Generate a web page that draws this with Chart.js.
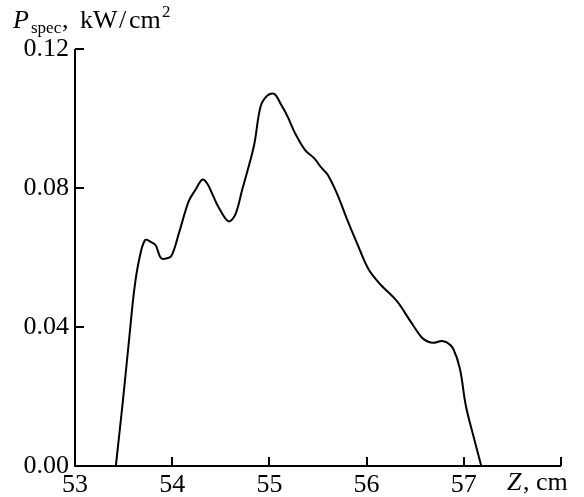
<!DOCTYPE html>
<html>
<head>
<meta charset="utf-8">
<script src="https://cdn.jsdelivr.net/npm/chart.js@4.4.0/dist/chart.umd.min.js"></script>
<style>
  html,body{margin:0;padding:0;background:#fff;}
  #wrap{width:584px;height:497px;position:relative;}
</style>
</head>
<body>
<div id="wrap"><canvas id="c" width="584" height="497"></canvas></div>
<script>
/* Spectral power density P_spec along Z */
const zCm=[53.42,53.49,53.56,53.61,53.66,53.72,53.78,53.83,53.88,53.92,53.99,54.07,54.17,54.24,54.31,54.36,54.42,54.48,54.58,54.65,54.72,54.84,54.91,54.98,55.05,55.12,55.19,55.26,55.37,55.46,55.53,55.60,55.70,55.80,55.90,56.02,56.14,56.31,56.45,56.57,56.64,56.70,56.77,56.83,56.89,56.96,57.02,57.10,57.18];
const pSpec=[0,0.018,0.0374,0.0508,0.0594,0.065,0.0645,0.0635,0.060,0.0596,0.0604,0.0671,0.0762,0.0795,0.0824,0.0813,0.0778,0.0743,0.0704,0.0724,0.0795,0.092,0.1035,0.1066,0.1071,0.104,0.1004,0.096,0.0908,0.0886,0.086,0.0838,0.0781,0.0709,0.0642,0.0566,0.0523,0.0475,0.0417,0.0369,0.0357,0.0355,0.036,0.0355,0.0338,0.028,0.0175,0.0085,0];
const xTicks=[53,54,55,56,57,58];
const yTicks=[0,0.04,0.08,0.12];

const FONT='"Liberation Serif", "DejaVu Serif", serif';

// inward ticks + axis titles
const axisDeco={
  id:'axisDeco',
  afterDraw(ch){
    const c=ch.ctx, x=ch.scales.x, y=ch.scales.y, a=ch.chartArea;
    c.save();
    c.strokeStyle='#000'; c.lineWidth=2;
    c.beginPath();
    c.moveTo(a.left,a.top); c.lineTo(a.left,a.bottom); c.lineTo(a.right,a.bottom);
    xTicks.forEach(v=>{const px=Math.round(x.getPixelForValue(v));c.moveTo(px,a.bottom);c.lineTo(px,a.bottom-9);});
    yTicks.forEach(v=>{const py=Math.round(y.getPixelForValue(v));c.moveTo(a.left,py);c.lineTo(a.left+9,py);});
    c.stroke();
    c.fillStyle='#000'; c.textBaseline='alphabetic';
    // y title: P_spec, kW/cm^2
    c.font='italic 26px '+FONT; c.fillText('P',13,28);
    c.font='17px '+FONT; c.fillText('spec',31,33);
    c.font='26px '+FONT; c.fillText(',',62,28);
    c.fillText('kW',80,28); c.fillText('/',119,28); c.fillText('cm',129,28);
    c.font='17px '+FONT; c.fillText('2',162,17);
    // x title: Z, cm
    c.font='italic 26px '+FONT; c.fillText('Z',507,490);
    c.font='26px '+FONT; c.fillText(', cm',523,490);
    c.restore();
  }
};

new Chart(document.getElementById('c'),{
  type:'line',
  data:{datasets:[{
    data:zCm.map((z,i)=>({x:z,y:pSpec[i]})),
    borderColor:'#000',borderWidth:2,pointRadius:0,tension:0.35,fill:false
  }]},
  options:{
    responsive:false,animation:false,
    layout:{padding:{top:49,right:23,left:0,bottom:0}},
    plugins:{legend:{display:false},tooltip:{enabled:false}},
    scales:{
      x:{type:'linear',min:53,max:58,
        afterFit(s){s.height=31;},
        afterBuildTicks(s){s.ticks=xTicks.map(v=>({value:v}));},
        border:{display:false},grid:{display:false,drawTicks:false},
        ticks:{color:'#000',padding:4,maxRotation:0,font:{family:FONT,size:26},
          callback:v=>v===58?'':String(v)}},
      y:{min:0,max:0.12,
        afterFit(s){s.width=75;},
        afterBuildTicks(s){s.ticks=yTicks.map(v=>({value:v}));},
        border:{display:false},grid:{display:false,drawTicks:false},
        ticks:{color:'#000',padding:6,font:{family:FONT,size:26},
          callback:v=>Number(v).toFixed(2)}}
    }
  },
  plugins:[axisDeco]
});
</script>
</body>
</html>
